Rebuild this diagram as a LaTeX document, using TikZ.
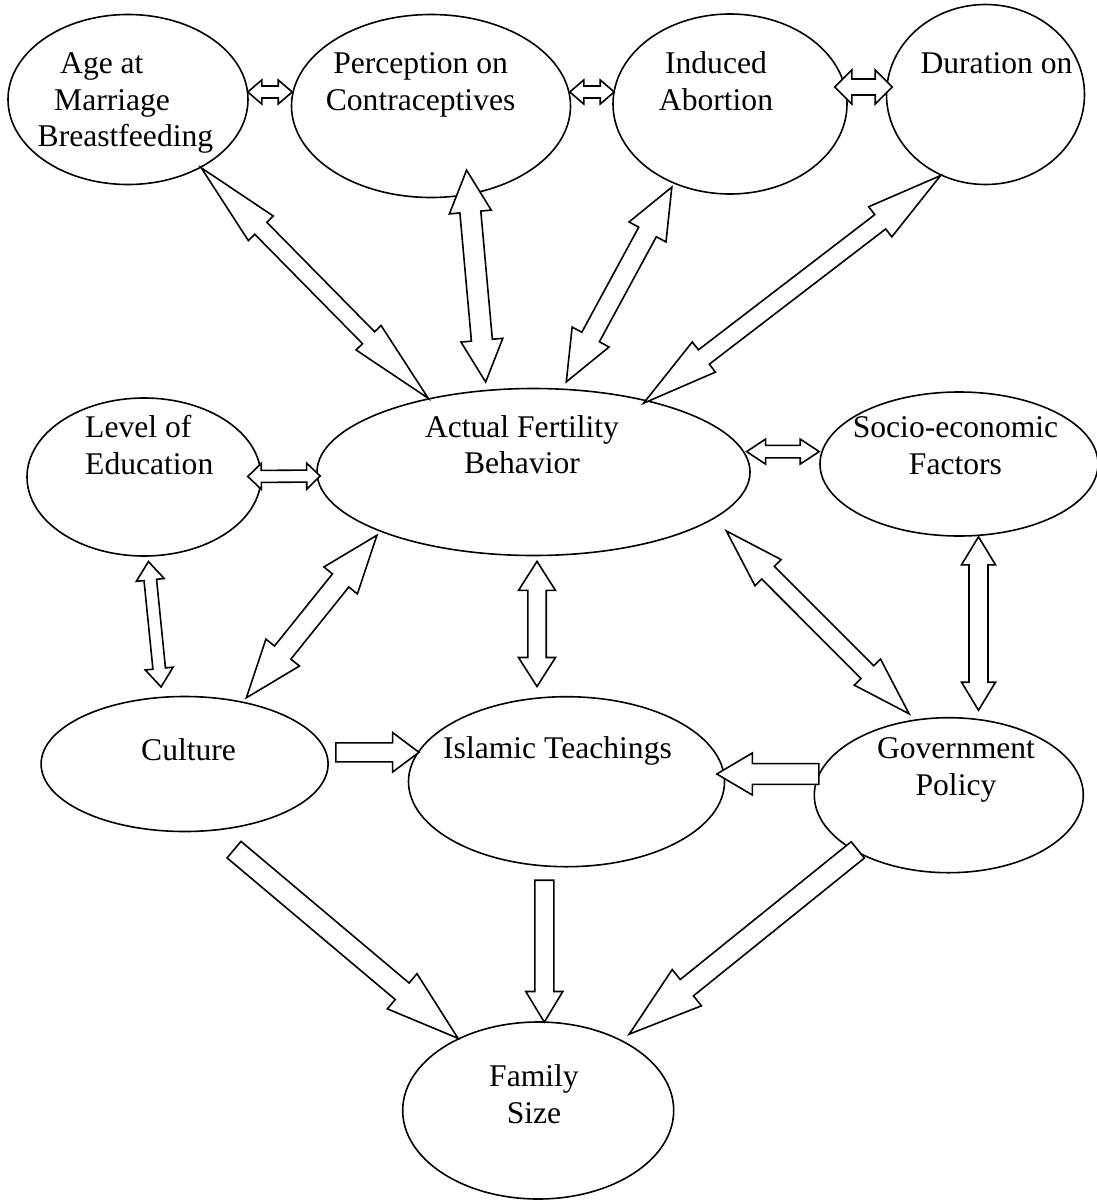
\documentclass[tikz,border=0pt]{standalone}
\usepackage{fontspec}
\setmainfont{Liberation Serif}
\usetikzlibrary{shapes.geometric,calc}

\tikzset{
	ell/.style={ellipse, draw, line width=1.6pt, inner sep=0pt},
	lbl/.style={font=\fontsize{31.6}{36.5}\selectfont, inner sep=0pt},
	blockarrow/.style={draw, fill=white, line width=1.6pt, line join=miter},
}

% #1,#2 tips; #3 half shaft; #4 half head; #5 head length
\newcommand{\dblarrow}[5]{%
	\coordinate (ta) at (#1);
	\coordinate (tb) at (#2);
	\coordinate (ha) at ($(ta)!#5pt!(tb)$);
	\coordinate (hb) at ($(tb)!#5pt!(ta)$);
	\draw[blockarrow] (ta) -- ($(ha)!#4pt!90:(tb)$) -- ($(ha)!#3pt!90:(tb)$)
		-- ($(hb)!#3pt!-90:(ta)$) -- ($(hb)!#4pt!-90:(ta)$) -- (tb)
		-- ($(hb)!#4pt!90:(ta)$) -- ($(hb)!#3pt!90:(ta)$)
		-- ($(ha)!#3pt!-90:(tb)$) -- ($(ha)!#4pt!-90:(tb)$) -- cycle;
}
% #1 tail, #2 tip
\newcommand{\onearrow}[5]{%
	\coordinate (ta) at (#1);
	\coordinate (tb) at (#2);
	\coordinate (hb) at ($(tb)!#5pt!(ta)$);
	\draw[blockarrow] ($(ta)!#3pt!-90:(tb)$) -- ($(hb)!#3pt!90:(ta)$)
		-- ($(hb)!#4pt!90:(ta)$) -- (tb) -- ($(hb)!#4pt!-90:(ta)$)
		-- ($(hb)!#3pt!-90:(ta)$) -- ($(ta)!#3pt!90:(tb)$) -- cycle;
}

\begin{document}
\begin{tikzpicture}[x=1pt, y=-1pt]
	\useasboundingbox (0,0) rectangle (1097,1200);

	\node (AM) at (128, 99.5)	[ell, minimum width=240pt, minimum height=170pt]	{};
	\node (PC) at (431, 106)	[ell, minimum width=279pt, minimum height=183pt]	{};
	\node (IA) at (730, 104)	[ell, minimum width=234pt, minimum height=180pt]	{};
	\node (DO) at (985.5, 94.5)	[ell, minimum width=198pt, minimum height=180pt]	{};
	\node (LE) at (144, 477)	[ell, minimum width=234pt, minimum height=158pt]	{};
	\node (AF) at (533.5, 472)	[ell, minimum width=433pt, minimum height=167pt]	{};
	\node (SE) at (959, 464)	[ell, minimum width=278pt, minimum height=144pt]	{};
	\node (CU) at (184.6, 764)	[ell, minimum width=287pt, minimum height=135pt]	{};
	\node (IT) at (566.5, 781.7)	[ell, minimum width=316pt, minimum height=170pt]	{};
	\node (GP) at (948.8, 795.2)	[ell, minimum width=269pt, minimum height=155pt]	{};
	\node (FS) at (538.2, 1110.5)	[ell, minimum width=271pt, minimum height=177pt]	{};

	% base = baseline of the last line
	\node (AMt) at (37.5, 146.5)	[lbl, anchor=base west, align=left]	{\hspace*{22.5pt}Age at\\\hspace*{16.5pt}Marriage\\Breastfeeding};
	\node (PCt) at (420.6, 110)	[lbl, anchor=base, align=center]	{Perception on\\Contraceptives};
	\node (IAt) at (716, 110)	[lbl, anchor=base, align=center]	{Induced\\Abortion};
	\node (DOt) at (996.5, 73.5)	[lbl, anchor=base]	{Duration on};
	\node (LEt) at (85, 474)	[lbl, anchor=base west, align=left]	{Level of\\Education};
	\node (AFt) at (522, 473.5)	[lbl, anchor=base, align=center]	{Actual Fertility\\Behavior};
	\node (SEt) at (955.5, 474)	[lbl, anchor=base, align=center]	{Socio-economic\\Factors};
	\node (CUt) at (188.6, 760)	[lbl, anchor=base]	{Culture};
	\node (ITt) at (557.5, 758.8)	[lbl, anchor=base]	{Islamic Teachings};
	\node (GPt) at (956, 795.3)	[lbl, anchor=base, align=center]	{Government\\Policy};
	\node (FSt) at (534, 1123.3)	[lbl, anchor=base, align=center]	{Family\\Size};

	% level arrows
	\dblarrow{$(AM.east)+(-1,-7.5)$}{$(PC.west)+(1.5,-14)$}{6}{12}{14}
	\dblarrow{$(PC.east)+(-1.5,-14)$}{$(IA.west)+(2,-12)$}{6}{12}{14}
	\dblarrow{$(IA.east)+(-13,-17)$}{$(DO.west)+(6.5,-7.5)$}{8}{17}{17}
	\dblarrow{$(LE.east)+(-14,-0.5)$}{$(AF.west)+(4,4)$}{6}{13}{13.5}
	\dblarrow{$(AF.east)+(-4.2,-20.4)$}{$(SE.west)+(0,-12.4)$}{6.3}{12.5}{19}
	\dblarrow{$(SE.south)+(19.5,0)$}{$(GP.north)+(29.7,-6.7)$}{9.5}{17}{28}
	\dblarrow{$(AF.south)+(3.5,5.1)$}{$(IT.north)+(-29.5,-9.4)$}{9.2}{18.5}{29}
	% slanted arrows
	\dblarrow{AM.-43.6}{AF.145.2}{8.5}{17.5}{85}
	\dblarrow{$(PC)!0.74!(PC.-61.3)$}{$(AF)!1.09!(AF.118.1)$}{10.5}{21}{42}
	\dblarrow{$(IA)!1.04!(IA.-125.9)$}{$(AF)!1.08!(AF.70)$}{10}{21}{51}
	\dblarrow{DO.-119.2}{$(AF)!0.96!(AF.32.1)$}{9}{19}{76}
	\dblarrow{$(AF)!1.13!(AF.-17.6)$}{$(GP)!1.08!(GP.116.7)$}{9}{18.5}{59}
	\dblarrow{$(LE)!1.06!(LE.-87.7)$}{$(CU)!1.14!(CU.107.5)$}{6.3}{14}{18.5}
	\dblarrow{$(CU)!1.06!(CU.47.6)$}{$(AF)!1.04!(AF.-158.6)$}{10.5}{21.5}{58}

	\onearrow{$(CU.east)+(6.9,-11.7)$}{$(IT.west)+(11.3,-29.4)$}{9.5}{19.75}{26.4}
	\onearrow{$(GP.west)+(5.3,-21.2)$}{$(IT.east)+(-8.5,-7.7)$}{10.35}{21}{35.5}
	\onearrow{$(IT.south)+(-22.2,12.7)$}{$(FS.north)+(6.1,0.9)$}{9.5}{18.5}{30.6}
	\onearrow{$(CU)!1.30!(CU.-60.2)$}{FS.138.9}{10.8}{23}{73}
	\onearrow{$(GP)!0.97!(GP.-149.9)$}{$(FS)!1.085!(FS.40.3)$}{10.5}{23.3}{74}
\end{tikzpicture}
\end{document}
